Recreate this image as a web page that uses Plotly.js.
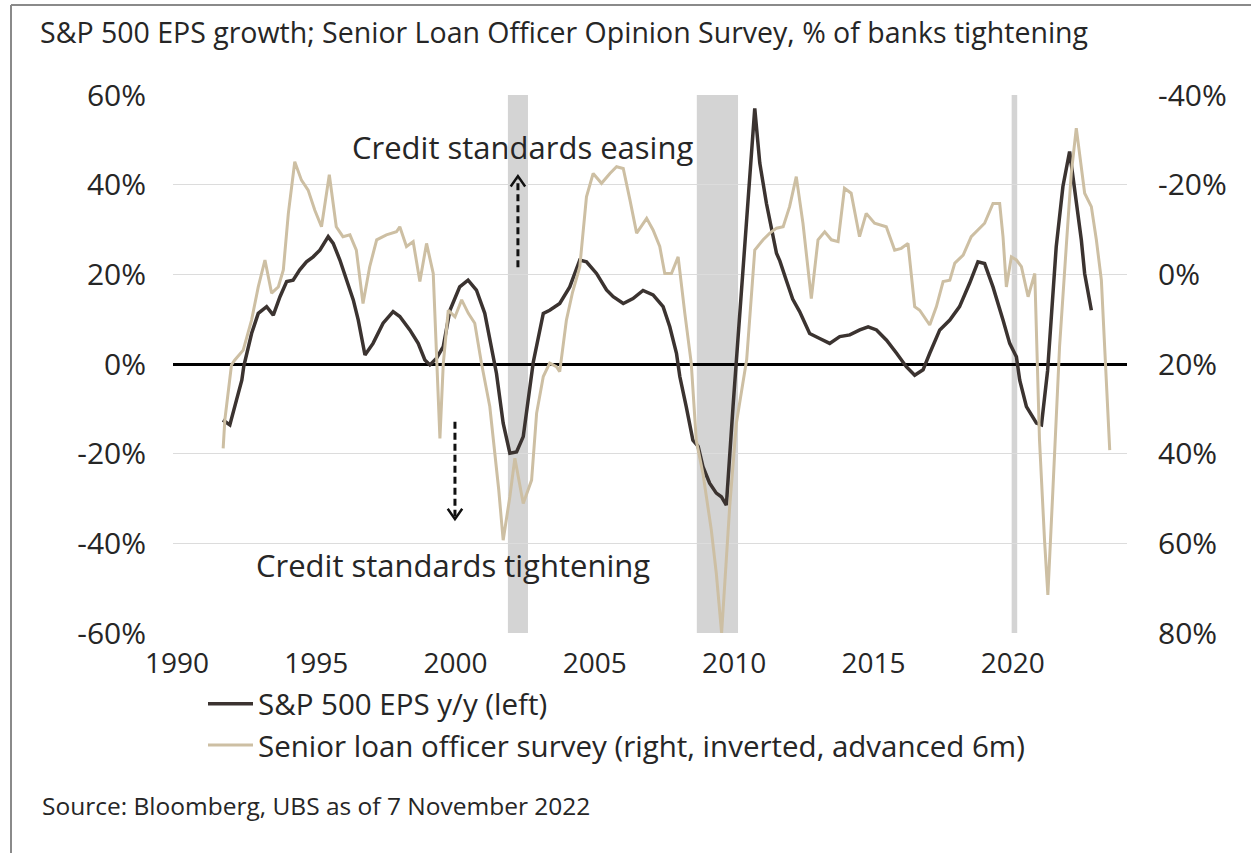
<!DOCTYPE html>
<html><head><meta charset="utf-8">
<script src="https://cdn.plot.ly/plotly-3.0.1.min.js"></script>
<style>html,body{margin:0;padding:0;background:#fff;} #chart{width:1251px;height:853px;}</style>
</head><body><div id="chart"></div>
<script>
// S&P 500 EPS y/y growth (%), left axis
const epsYears = [1991.65,1991.90,1992.14,1992.33,1992.40,1992.68,1992.92,1993.22,1993.46,1993.70,1993.94,1994.17,1994.41,1994.65,1994.89,1995.13,1995.43,1995.61,1995.85,1996.09,1996.33,1996.51,1996.75,1997.04,1997.40,1997.76,1998.00,1998.36,1998.66,1998.90,1999.08,1999.32,1999.56,1999.80,2000.15,2000.45,2000.75,2001.05,2001.29,2001.47,2001.71,2001.95,2002.19,2002.43,2002.79,2003.15,2003.38,2003.74,2004.10,2004.46,2004.70,2005.06,2005.42,2005.66,2006.02,2006.37,2006.73,2007.09,2007.45,2007.69,2007.93,2008.05,2008.28,2008.52,2008.71,2008.88,2009.12,2009.36,2009.54,2009.72,2009.96,2010.08,2010.44,2010.74,2010.92,2011.16,2011.52,2011.64,2011.88,2012.10,2012.35,2012.71,2013.07,2013.43,2013.79,2014.15,2014.51,2014.81,2015.11,2015.47,2015.83,2016.18,2016.48,2016.78,2017.02,2017.38,2017.74,2018.09,2018.45,2018.75,2018.99,2019.29,2019.65,2019.89,2020.13,2020.25,2020.49,2020.85,2021.03,2021.25,2021.56,2021.80,2022.04,2022.22,2022.46,2022.58,2022.82];
const epsValues = [-12.5,-13.6,-8.0,-3.6,-0.5,6.8,11.3,12.8,10.9,15.0,18.4,18.7,21.0,22.8,23.9,25.4,28.4,26.9,23.2,18.7,14.3,9.8,2.0,4.6,9.1,11.7,10.6,7.6,4.6,0.9,-0.2,1.3,3.9,12.0,17.2,18.7,16.5,11.3,3.9,-2.1,-13.2,-19.9,-19.6,-16.2,0.4,11.3,12.0,13.5,17.2,23.2,22.8,20.2,16.5,15.0,13.5,14.6,16.4,15.4,12.8,8.3,2.4,-2.8,-9.5,-17.0,-18.4,-22.9,-26.6,-28.8,-29.6,-31.5,-9.5,0.9,33.6,57.0,44.8,35.8,24.7,23.0,18.5,14.5,11.7,6.8,5.7,4.6,6.1,6.5,7.6,8.3,7.6,5.3,2.4,-0.6,-2.5,-1.3,2.4,7.6,9.8,12.8,18.0,22.8,22.4,17.2,9.8,4.6,1.6,-3.6,-9.5,-13.2,-13.6,-1.5,26.2,39.6,47.4,38.8,27.7,20.2,12.0];

// Senior Loan Officer survey, % of banks tightening (right axis, inverted, advanced 6m)
const sloosYears = [1991.66,1991.72,1991.96,1992.08,1992.38,1992.68,1992.92,1993.16,1993.40,1993.64,1993.82,1994.00,1994.23,1994.47,1994.71,1994.95,1995.19,1995.47,1995.72,1995.96,1996.21,1996.44,1996.68,1996.92,1997.17,1997.52,1997.88,1998.00,1998.24,1998.48,1998.72,1998.96,1999.20,1999.32,1999.44,1999.56,1999.74,1999.98,2000.22,2000.46,2000.69,2000.93,2001.23,2001.55,2001.71,2001.95,2002.13,2002.43,2002.73,2002.91,2003.15,2003.38,2003.62,2003.74,2003.98,2004.20,2004.46,2004.70,2004.94,2005.24,2005.54,2005.78,2006.02,2006.26,2006.50,2006.86,2007.09,2007.33,2007.51,2007.75,2007.99,2008.23,2008.46,2008.64,2008.88,2009.18,2009.36,2009.55,2009.84,2010.08,2010.32,2010.45,2010.74,2011.04,2011.28,2011.52,2011.76,2011.99,2012.23,2012.47,2012.77,2013.01,2013.25,2013.49,2013.73,2013.96,2014.20,2014.50,2014.74,2015.04,2015.46,2015.76,2016.00,2016.24,2016.48,2016.66,2017.02,2017.26,2017.50,2017.74,2017.92,2018.22,2018.51,2018.75,2018.99,2019.29,2019.53,2019.65,2019.77,2019.95,2020.13,2020.31,2020.55,2020.79,2020.96,2021.14,2021.26,2021.44,2021.62,2021.68,2021.92,2022.10,2022.28,2022.46,2022.58,2022.82,2023.00,2023.18,2023.29,2023.48];
const sloosValues = [38.8,32.5,20.2,19.1,16.9,10.2,2.8,-3.2,4.2,2.8,-1.0,-13.6,-25.1,-21.0,-18.8,-14.3,-10.6,-22.2,-10.6,-8.4,-8.8,-5.4,6.5,-1.7,-7.7,-8.8,-9.5,-10.6,-6.2,-7.3,1.6,-6.9,-0.2,18.4,36.6,20.0,8.0,9.5,5.7,8.7,10.9,19.8,29.5,48.0,59.3,49.6,41.0,51.1,45.9,31.0,22.8,19.8,20.6,21.7,10.2,4.0,-1.7,-17.3,-22.5,-20.3,-22.5,-24.0,-23.6,-16.6,-9.2,-12.5,-9.9,-6.2,-0.2,-0.2,-3.9,8.7,19.8,37.0,44.4,57.0,66.7,80.0,51.8,33.2,24.3,19.0,-5.4,-7.7,-9.2,-10.3,-10.6,-15.1,-21.8,-11.4,5.4,-7.7,-9.5,-7.7,-7.3,-19.2,-18.1,-8.4,-13.6,-11.4,-10.6,-5.4,-5.8,-6.9,7.2,8.0,11.3,7.2,1.6,1.3,-2.5,-4.3,-8.4,-9.9,-11.4,-15.8,-15.8,-8.4,2.8,-3.9,-3.2,-1.7,5.0,-0.2,37.0,59.3,71.5,48.1,22.1,16.1,-6.2,-22.5,-32.6,-24.0,-18.1,-15.1,-7.7,1.3,16.1,39.2];

// Recession shading (start, end)
const recessionStart = [2001.88, 2008.66, 2019.96];
const recessionEnd = [2002.60, 2010.14, 2020.16];

const xTickVals = [1990, 1995, 2000, 2005, 2010, 2015, 2020];
const xTickText = ['1990', '1995', '2000', '2005', '2010', '2015', '2020'];
const leftTickVals = [-60, -40, -20, 0, 20, 40, 60];
const leftTickText = ['-60%', '-40%', '-20%', '0%', '20%', '40%', '60%'];
const rightTickVals = [-40, -20, 0, 20, 40, 60, 80];
const rightTickText = ['-40%', '-20%', '0%', '20%', '40%', '60%', '80%'];

const seriesNames = ['S&P 500 EPS y/y (left)', 'Senior loan officer survey (right, inverted, advanced 6m)'];
const titleText = 'S&P 500 EPS growth; Senior Loan Officer Opinion Survey, % of banks tightening';
const sourceText = 'Source: Bloomberg, UBS as of 7 November 2022';

const FONT = 'Open Sans, Noto Sans, sans-serif';
const TXT = '#262626';

const traces = [
  {x: epsYears, y: epsValues, type: 'scatter', mode: 'lines', name: seriesNames[0],
   line: {color: '#3b3330', width: 3.5}, yaxis: 'y'},
  {x: sloosYears, y: sloosValues, type: 'scatter', mode: 'lines', name: seriesNames[1],
   line: {color: '#cdbfa3', width: 3}, yaxis: 'y2'}
];

const shapes = recessionStart.map((s, i) => ({
  type: 'rect', xref: 'x', yref: 'paper', x0: s, x1: recessionEnd[i], y0: 0, y1: 1,
  fillcolor: '#d4d4d4', line: {width: 0}, layer: 'below'
}));
// dashed arrows
shapes.push({type: 'line', xref: 'x', yref: 'y', x0: 2002.24, x1: 2002.24, y0: 21.6, y1: 41.3,
  line: {color: '#111', width: 3, dash: '7px,4px'}});
shapes.push({type: 'path', xref: 'x', yref: 'y', path: 'M 2001.98,39.6 L 2002.24,41.9 L 2002.50,39.6',
  line: {color: '#111', width: 2.5}});
shapes.push({type: 'line', xref: 'x', yref: 'y', x0: 1999.98, x1: 1999.98, y0: -12.9, y1: -34.0,
  line: {color: '#111', width: 3, dash: '7px,4px'}});
shapes.push({type: 'path', xref: 'x', yref: 'y', path: 'M 1999.72,-32.3 L 1999.98,-34.6 L 2000.24,-32.3',
  line: {color: '#111', width: 2.5}});
// outer frame
shapes.push({type: 'line', xref: 'paper', yref: 'paper', x0: (11-173)/954, x1: (11-173)/954, y0: (633-853)/538, y1: (633-5)/538,
  line: {color: '#8a8a8a', width: 2}});
shapes.push({type: 'line', xref: 'paper', yref: 'paper', x0: (11-173)/954, x1: (1251-173)/954, y0: (633-5)/538, y1: (633-5)/538,
  line: {color: '#8a8a8a', width: 2}});

const annotations = [
  {xref: 'x', yref: 'y', x: 2002.42, y: 48.4, text: 'Credit standards easing', showarrow: false,
   font: {family: FONT, size: 31, color: TXT}, xanchor: 'center', yanchor: 'middle'},
  {xref: 'x', yref: 'y', x: 1999.91, y: -44.8, text: 'Credit standards tightening', showarrow: false,
   font: {family: FONT, size: 31, color: TXT}, xanchor: 'center', yanchor: 'middle'},
  {xref: 'paper', yref: 'paper', x: (40-173)/954, y: (633-805)/538, text: sourceText, showarrow: false,
   font: {family: FONT, size: 24.5, color: TXT}, xanchor: 'left', yanchor: 'middle'}
];

const layout = {
  width: 1251, height: 853,
  margin: {l: 173, r: 124, t: 95, b: 220, pad: 0},
  paper_bgcolor: '#fff', plot_bgcolor: '#fff',
  font: {family: FONT, size: 28, color: TXT},
  title: {text: titleText, x: 40/1251, xanchor: 'left', y: 1 - 33/853, yanchor: 'middle',
          font: {family: FONT, size: 28.5, color: TXT}},
  showlegend: true,
  legend: {x: (203-173)/954, y: (633-678)/538, xanchor: 'left', yanchor: 'top',
           font: {family: FONT, size: 29.5, color: TXT}, itemwidth: 45, tracegroupgap: 0,
           bgcolor: 'rgba(0,0,0,0)', borderwidth: 0},
  xaxis: {range: [1989.86, 2024.1], tickvals: xTickVals, ticktext: xTickText, showgrid: false,
          zeroline: false, showline: false, ticks: '', tickfont: {family: FONT, size: 28, color: TXT},
          ticklabelstandoff: 11},
  yaxis: {range: [-60, 60], tickvals: leftTickVals, ticktext: leftTickText, showgrid: true,
          gridcolor: '#dcdcdc', gridwidth: 1, zeroline: true, zerolinecolor: '#000', zerolinewidth: 3,
          showline: false, ticks: '', tickfont: {family: FONT, size: 30, color: TXT}, ticklabelstandoff: 26},
  yaxis2: {range: [80, -40], overlaying: 'y', side: 'right', tickvals: rightTickVals, ticktext: rightTickText,
           showgrid: false, zeroline: false, showline: false, ticks: '',
           tickfont: {family: FONT, size: 30, color: TXT}, ticklabelstandoff: 30},
  shapes: shapes,
  annotations: annotations
};

Plotly.newPlot('chart', traces, layout, {staticPlot: true, displayModeBar: false});
</script>
</body></html>
